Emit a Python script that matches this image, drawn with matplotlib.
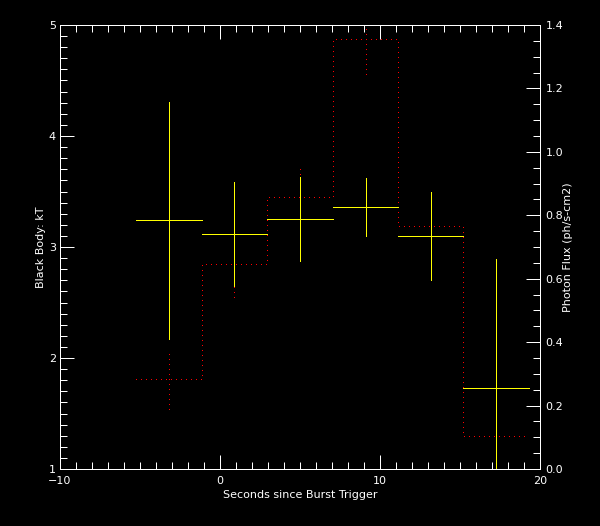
import matplotlib
matplotlib.use('Agg')
import matplotlib.pyplot as plt
import numpy as np

# time bins (s since trigger), black body kT (keV) and photon flux per bin
edges    = [-5.25, -1.15, 2.95, 7.05, 11.15, 15.2, 19.3]
kT       = [3.24, 3.12, 3.25, 3.36, 3.10, 1.73]
kT_err   = [1.07, 0.47, 0.38, 0.26, 0.40, 1.16]
flux     = [0.283, 0.647, 0.857, 1.355, 0.765, 0.103]
flux_err = [0.095, 0.105, 0.10, 0.11, 0.09, 0.08]

edges = np.array(edges)
centers = 0.5*(edges[:-1] + edges[1:])
halfw   = 0.5*(edges[1:] - edges[:-1])

fg = 'white'
lw = 0.72  # one pixel at 100 dpi

fig = plt.figure(figsize=(6.0, 5.26), dpi=100, facecolor='black')
ax = fig.add_axes([0.1, 1-469/526., 0.8, 444/526.])
ax2 = ax.twinx()
ax.set_zorder(ax2.get_zorder()+1)
ax.patch.set_visible(False)
ax2.patch.set_facecolor('black')

# flux histogram (dotted) on the right axis
st = ax2.stairs(flux, edges, baseline=None, color='red', linestyle=(0, (1, 5)), lw=lw)
st.set_antialiased(False)
vl = ax2.vlines(centers, np.array(flux)-np.array(flux_err), np.array(flux)+np.array(flux_err),
                colors='red', linestyles=[(0, (1, 5))], lw=lw)
vl.set_antialiased(False)

# kT crosses on the left axis
eb = ax.errorbar(centers, kT, xerr=halfw, yerr=kT_err, fmt='none', ecolor='yellow',
                 elinewidth=lw, capsize=0)
for c in eb.lines[2]:
  c.set_antialiased(False)

ax.set_xlim(-10, 20)
ax.set_ylim(1, 5)
ax2.set_ylim(0, 1.4)

ax.set_xticks([-10, 0, 10, 20])
ax.set_xticks(np.arange(-10, 20.1, 1), minor=True)
ax.set_yticks([1, 2, 3, 4, 5])
ax.set_yticks(np.arange(1, 5.01, 0.1), minor=True)
ax2.set_yticks(np.arange(0, 1.41, 0.2))
ax2.set_yticks(np.arange(0, 1.41, 0.05), minor=True)
ax2.set_yticklabels(['%.1f' % v for v in np.arange(0, 1.41, 0.2)])
ax.set_xticklabels(['\u221210', '0', '10', '20'])

fs = 8
ax.tick_params(axis='x', which='both', direction='in', top=True, bottom=True, colors=fg,
               labelsize=fs, pad=5, width=lw)
ax.tick_params(axis='y', which='both', direction='in', left=True, right=False, colors=fg,
               labelsize=fs, pad=3, width=lw)
ax2.tick_params(axis='y', which='both', direction='in', right=True, left=False, colors=fg,
                labelsize=fs, pad=4, width=lw)
for a in (ax, ax2):
  a.tick_params(which='major', length=10)
  a.tick_params(which='minor', length=5)
  for s in a.spines.values():
    s.set_color(fg)
    s.set_linewidth(lw)

ax.set_xlabel('Seconds since Burst Trigger', color=fg, fontsize=fs, labelpad=3)
ax.set_ylabel('Black Body: kT', color=fg, fontsize=fs, labelpad=2)
ax2.set_ylabel('Photon Flux (ph/s-cm2)', color=fg, fontsize=fs, labelpad=-0.5)

fig.savefig('out.png', dpi=100, facecolor='black')
